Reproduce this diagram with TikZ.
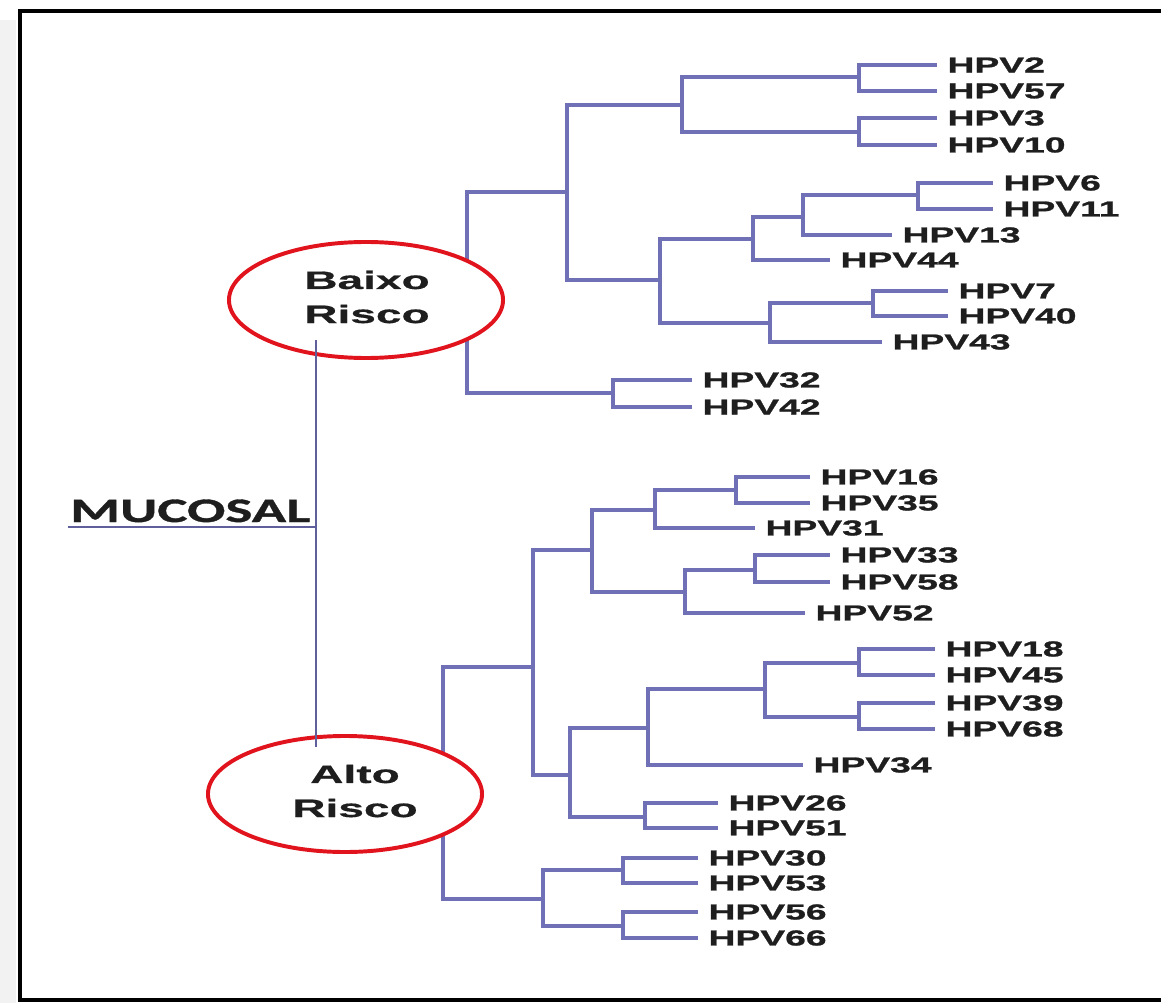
\documentclass[tikz,border=0pt]{standalone}
\usepackage{fontspec}
\usetikzlibrary{shapes.geometric}
\newfontfamily\hpvfont{Liberation Sans}[FakeStretch=1.72,FakeBold=1.2]
\newfontfamily\riskfont{Liberation Sans}[FakeStretch=1.83,FakeBold=0.6]
\newfontfamily\mucfont{Carlito}[FakeStretch=1.66,FakeBold=1]
\definecolor{treeblue}{RGB}{112,112,182}
\definecolor{ovalred}{RGB}{225,20,30}
\definecolor{txtdark}{RGB}{30,30,30}
\begin{document}
\begin{tikzpicture}[x=0.025cm,y=-0.025cm,
  tree/.style={draw=treeblue,line width=2.4pt},
  leaf/.style={anchor=west,inner xsep=7.5pt,inner ysep=0pt,outer sep=0pt,
    text=txtdark,font=\hpvfont\bfseries\fontsize{15.4}{16}\selectfont},
  riskoval/.style={ellipse,draw=ovalred,line width=2.8pt,fill=white,
    minimum width=194.9pt,minimum height=82.5pt,inner sep=0pt},
  risktext/.style={align=center,text=txtdark,inner sep=0pt,
    font=\riskfont\bfseries\fontsize{17.9}{24.2}\selectfont},
  mucline/.style={draw=treeblue!85!black,line width=1.5pt},
  frame/.style={draw=black,line width=3.2pt}]
\useasboundingbox (0,0) rectangle (1161,1003);
\fill[gray!10] (0,20) rectangle (16,1003);
\draw[frame] (1175,11) -- (20,11) -- (20,1000) -- (1175,1000);

% ---------- upper tree (Baixo Risco) ----------
\coordinate (r1) at (467,300);
\coordinate (nA) at (567,192);
\coordinate (nB) at (682,105);
\coordinate (b1) at (859,77);
\coordinate (b2) at (859,132);
\coordinate (nC) at (660,280);
\coordinate (nD) at (753,239);
\coordinate (nE) at (803,217);
\coordinate (nF) at (918,195);
\coordinate (nG) at (770,323);
\coordinate (nH) at (873,303);
\coordinate (p32) at (613,393);

\node[leaf] (hpv2) at (937,65) {HPV2};
\node[leaf] (hpv57) at (937,91) {HPV57};
\node[leaf] (hpv3) at (937,118) {HPV3};
\node[leaf] (hpv10) at (937,145) {HPV10};
\node[leaf] (hpv6) at (993,183) {HPV6};
\node[leaf] (hpv11) at (993,209) {HPV11};
\node[leaf] (hpv13) at (892,235) {HPV13};
\node[leaf] (hpv44) at (830,260) {HPV44};
\node[leaf] (hpv7) at (948,291) {HPV7};
\node[leaf] (hpv40) at (948,316) {HPV40};
\node[leaf] (hpv43) at (882,342) {HPV43};
\node[leaf] (hpv32) at (692,380) {HPV32};
\node[leaf] (hpv42) at (692,407) {HPV42};

\draw[tree] (r1) |- (nA);
\draw[tree] (r1) |- (p32);
\draw[tree] (nA) |- (nB);
\draw[tree] (nA) |- (nC);
\draw[tree] (nB) |- (b1);
\draw[tree] (nB) |- (b2);
\draw[tree] (b1) |- (hpv2.west);
\draw[tree] (b1) |- (hpv57.west);
\draw[tree] (b2) |- (hpv3.west);
\draw[tree] (b2) |- (hpv10.west);
\draw[tree] (nC) |- (nD);
\draw[tree] (nC) |- (nG);
\draw[tree] (nD) |- (nE);
\draw[tree] (nD) |- (hpv44.west);
\draw[tree] (nE) |- (nF);
\draw[tree] (nE) |- (hpv13.west);
\draw[tree] (nF) |- (hpv6.west);
\draw[tree] (nF) |- (hpv11.west);
\draw[tree] (nG) |- (nH);
\draw[tree] (nG) |- (hpv43.west);
\draw[tree] (nH) |- (hpv7.west);
\draw[tree] (nH) |- (hpv40.west);
\draw[tree] (p32) |- (hpv32.west);
\draw[tree] (p32) |- (hpv42.west);

% ---------- lower tree (Alto Risco) ----------
\coordinate (r2) at (443,783);
\coordinate (nI) at (533,667);
\coordinate (nJ) at (592,550);
\coordinate (nK) at (655,510);
\coordinate (nL) at (736,490);
\coordinate (nM) at (685,592);
\coordinate (nN) at (755,570);
\coordinate (nO) at (570,775);
\coordinate (nP) at (648,728);
\coordinate (nQ) at (765,689);
\coordinate (q1) at (859,663);
\coordinate (q2) at (859,717);
\coordinate (nR) at (645,817);
\coordinate (nS) at (543,899);
\coordinate (nT) at (623,870);
\coordinate (nU) at (623,926);

\node[leaf] (hpv16) at (810,477) {HPV16};
\node[leaf] (hpv35) at (810,503) {HPV35};
\node[leaf] (hpv31) at (755,528) {HPV31};
\node[leaf] (hpv33) at (830,555) {HPV33};
\node[leaf] (hpv58) at (830,582) {HPV58};
\node[leaf] (hpv52) at (805,613) {HPV52};
\node[leaf] (hpv18) at (935,649) {HPV18};
\node[leaf] (hpv45) at (935,675) {HPV45};
\node[leaf] (hpv39) at (935,703) {HPV39};
\node[leaf] (hpv68) at (935,729) {HPV68};
\node[leaf] (hpv34) at (803,765) {HPV34};
\node[leaf] (hpv26) at (718,803) {HPV26};
\node[leaf] (hpv51) at (718,828) {HPV51};
\node[leaf] (hpv30) at (698,858) {HPV30};
\node[leaf] (hpv53) at (698,883) {HPV53};
\node[leaf] (hpv56) at (698,912) {HPV56};
\node[leaf] (hpv66) at (698,938) {HPV66};

\draw[tree] (r2) |- (nI);
\draw[tree] (r2) |- (nS);
\draw[tree] (nI) |- (nJ);
\draw[tree] (nI) |- (nO);
\draw[tree] (nJ) |- (nK);
\draw[tree] (nJ) |- (nM);
\draw[tree] (nK) |- (nL);
\draw[tree] (nK) |- (hpv31.west);
\draw[tree] (nL) |- (hpv16.west);
\draw[tree] (nL) |- (hpv35.west);
\draw[tree] (nM) |- (nN);
\draw[tree] (nM) |- (hpv52.west);
\draw[tree] (nN) |- (hpv33.west);
\draw[tree] (nN) |- (hpv58.west);
\draw[tree] (nO) |- (nP);
\draw[tree] (nO) |- (nR);
\draw[tree] (nP) |- (nQ);
\draw[tree] (nP) |- (hpv34.west);
\draw[tree] (nQ) |- (q1);
\draw[tree] (nQ) |- (q2);
\draw[tree] (q1) |- (hpv18.west);
\draw[tree] (q1) |- (hpv45.west);
\draw[tree] (q2) |- (hpv39.west);
\draw[tree] (q2) |- (hpv68.west);
\draw[tree] (nR) |- (hpv26.west);
\draw[tree] (nR) |- (hpv51.west);
\draw[tree] (nS) |- (nT);
\draw[tree] (nS) |- (nU);
\draw[tree] (nT) |- (hpv30.west);
\draw[tree] (nT) |- (hpv53.west);
\draw[tree] (nU) |- (hpv56.west);
\draw[tree] (nU) |- (hpv66.west);

% ---------- risk ovals ----------
\node[riskoval] (baixo) at (366,300) {};
\node[risktext] (baixotxt) at (367,297) {Baixo\\Risco};
\node[riskoval] (alto) at (345,794) {};
\node[risktext] (altotxt) at (355,791) {Alto\\Risco};

% ---------- MUCOSAL ----------
\coordinate (mtop) at (316,340);
\coordinate (mbot) at (316,747);
\coordinate (mjoin) at (316,527);
\coordinate (ulstart) at (68,527);
\draw[mucline] (mtop) -- (mbot);
\draw[mucline] (ulstart) -- (mjoin);
\node[anchor=base west,inner sep=0pt,text=txtdark,
  font=\mucfont\bfseries\fontsize{24.4}{26}\selectfont] (mucosal) at (70,522) {MUCOSAL};
\end{tikzpicture}
\end{document}
